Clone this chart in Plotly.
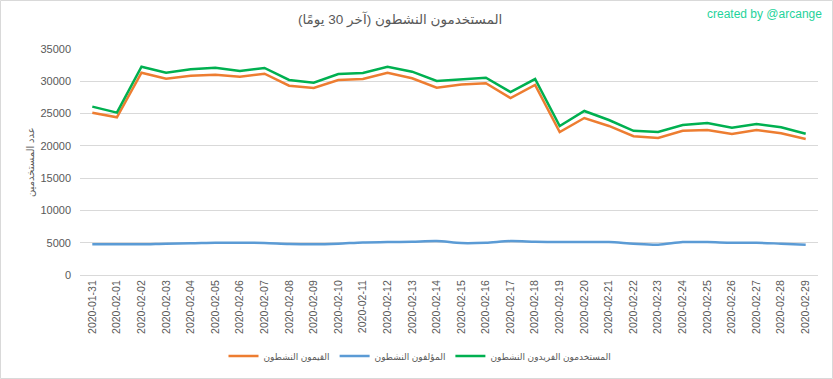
import plotly.graph_objects as go

dates = ["2020-01-31", "2020-02-01", "2020-02-02", "2020-02-03", "2020-02-04", "2020-02-05",
         "2020-02-06", "2020-02-07", "2020-02-08", "2020-02-09", "2020-02-10", "2020-02-11",
         "2020-02-12", "2020-02-13", "2020-02-14", "2020-02-15", "2020-02-16", "2020-02-17",
         "2020-02-18", "2020-02-19", "2020-02-20", "2020-02-21", "2020-02-22", "2020-02-23",
         "2020-02-24", "2020-02-25", "2020-02-26", "2020-02-27", "2020-02-28", "2020-02-29"]

curators = [25140, 24420, 31330, 30400, 30870, 31020, 30710, 31180, 29320, 28960,
            30200, 30350, 31330, 30460, 29010, 29500, 29690, 27410, 29430, 22150,
            24310, 23080, 21500, 21220, 22350, 22460, 21840, 22460, 21940, 21060]

authors = [4750, 4750, 4750, 4850, 4900, 5000, 5000, 4950, 4800, 4750,
           4850, 5050, 5100, 5150, 5250, 4950, 5000, 5250, 5150, 5100,
           5100, 5100, 4850, 4700, 5100, 5100, 5000, 5000, 4850, 4700]

unique_users = [26070, 25140, 32260, 31330, 31850, 32110, 31590, 32060, 30200, 29780,
                31130, 31280, 32260, 31490, 30040, 30330, 30560, 28340, 30350, 23080,
                25400, 24000, 22330, 22150, 23230, 23540, 22810, 23390, 22870, 21880]

yticks = [0, 5000, 10000, 15000, 20000, 25000, 30000, 35000]

name_curators = "القيمون النشطون"
name_authors = "المؤلفون النشطون"
name_unique = "المستخدمون الفريدون النشطون"
title_text = "\u200fالمستخدمون النشطون (آخر 30 يومًا)\u200f"
ytitle = "عدد المستخدمين"

W, H = 833, 379
ML, MR, MT, MB = 80, 15, 49, 104
PW, PH = W - ML - MR, H - MT - MB

def px(x):
    return (x - ML) / PW

def py(y):
    return (H - MB - y) / PH

fig = go.Figure()
fig.add_trace(go.Scatter(x=dates, y=curators, name=name_curators, mode="lines",
                         line=dict(color="#ED7D31", width=2.5)))
fig.add_trace(go.Scatter(x=dates, y=authors, name=name_authors, mode="lines",
                         line=dict(color="#5B9BD5", width=2.5, shape="spline", smoothing=0.8)))
fig.add_trace(go.Scatter(x=dates, y=unique_users, name=name_unique, mode="lines",
                         line=dict(color="#00B050", width=2.5)))

font_family = "Liberation Sans, DejaVu Sans, sans-serif"
grey = "#595959"

fig.update_layout(
    width=W, height=H,
    margin=dict(l=ML, r=MR, t=MT, b=MB, autoexpand=False),
    paper_bgcolor="white", plot_bgcolor="white",
    font=dict(family=font_family, color=grey, size=11),
    showlegend=True,
    legend=dict(orientation="h", x=px(420), xanchor="center", y=py(356), yanchor="middle",
                font=dict(size=9, color=grey), traceorder="normal", itemwidth=30,
                bgcolor="rgba(0,0,0,0)"),
    xaxis=dict(type="category", range=[-0.5, len(dates) - 0.5], tickangle=-90,
               tickfont=dict(size=10.5, color=grey), showgrid=False, zeroline=False,
               showline=True, linecolor="#d9d9d9", linewidth=1, ticks="",
               automargin=False, fixedrange=True),
    yaxis=dict(range=[0, 35000], tickvals=yticks, ticktext=[str(v) for v in yticks],
               tickfont=dict(size=11, color=grey), showgrid=True, gridcolor="#d9d9d9",
               gridwidth=1, zeroline=False, showline=False, ticklabelstandoff=8,
               automargin=False, fixedrange=True),
    annotations=[
        dict(text=title_text, xref="paper", yref="paper", x=px(400), y=py(20),
             xanchor="center", yanchor="middle", showarrow=False,
             font=dict(size=13.5, color=grey, family=font_family)),
        dict(text="created by @arcange", xref="paper", yref="paper", x=px(824), y=py(14),
             xanchor="right", yanchor="middle", showarrow=False,
             font=dict(size=12, color="#1FD39B", family=font_family)),
        dict(text=ytitle, xref="paper", yref="paper", x=px(30), y=py(162),
             xanchor="center", yanchor="middle", showarrow=False, textangle=-90,
             font=dict(size=10, color=grey, family=font_family)),
    ],
    shapes=[
        dict(type="rect", xref="paper", yref="paper",
             x0=px(0.5), x1=px(832.5), y0=py(378.5), y1=py(0.5),
             line=dict(color="#d9d9d9", width=1), fillcolor="rgba(0,0,0,0)", layer="below"),
    ],
)

fig.write_html("out.html", config={"displayModeBar": False},
               post_script="document.body.style.margin='0';document.body.style.padding='0';")
